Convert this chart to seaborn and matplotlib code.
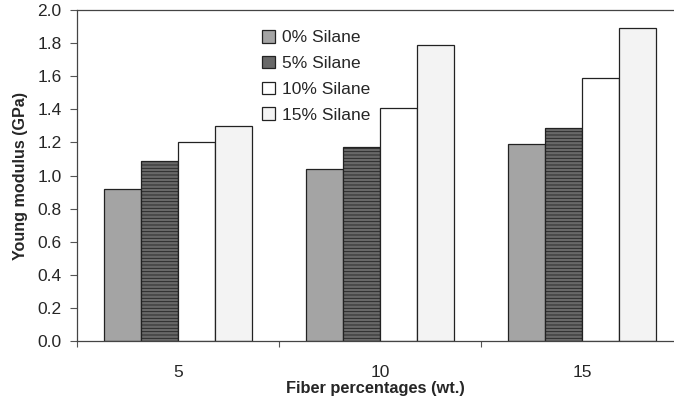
import matplotlib
matplotlib.use("Agg")
import matplotlib.pyplot as plt
import seaborn as sns
import pandas as pd
from matplotlib.ticker import FixedLocator

fibers = ["5", "10", "15"]
series = ["0% Silane", "5% Silane", "10% Silane", "15% Silane"]
v0 = [0.92, 1.04, 1.19]
v5 = [1.09, 1.17, 1.29]
v10 = [1.20, 1.41, 1.59]
v15 = [1.30, 1.79, 1.89]
yticks = [0.0, 0.2, 0.4, 0.6, 0.8, 1.0, 1.2, 1.4, 1.6, 1.8, 2.0]

rows = []
for s, vals in zip(series, [v0, v5, v10, v15]):
    for f, v in zip(fibers, vals):
        rows.append({"fiber": f, "silane": s, "modulus": v})
df = pd.DataFrame(rows)

sns.set_theme(style="white")
plt.rcParams["font.family"] = ["Liberation Sans", "DejaVu Sans"]
plt.rcParams["hatch.linewidth"] = 0.6

fig = plt.figure(figsize=(6.74, 4.04), dpi=100)
ax = fig.add_axes([77 / 674, 1 - 341 / 404, 597 / 674, 331 / 404])

palette = {"0% Silane": "#a4a4a4", "5% Silane": "#686868",
           "10% Silane": "#ffffff", "15% Silane": "#f3f3f3"}
sns.barplot(data=df, x="fiber", y="modulus", hue="silane", order=fibers,
            hue_order=series, palette=palette, edgecolor="#222222",
            linewidth=0.9, width=0.73, gap=0, errorbar=None, saturation=1,
            ax=ax)

# hatch for 5% series
for bar_container, s in zip(ax.containers, series):
    if s == "5% Silane":
        for p in bar_container:
            p.set_hatch("-----")

ax.set_xlim(-0.5, 2.455)
ax.set_ylim(0, 2.0)
ax.set_yticks(yticks)
ax.set_yticklabels([f"{t:.1f}" for t in yticks], fontsize=12.5)
ax.set_xticks(range(len(fibers)))
ax.set_xticklabels(fibers, fontsize=12.5)
ax.tick_params(axis="x", which="major", length=0, pad=17)
ax.xaxis.set_minor_locator(FixedLocator([-0.5, 0.5, 1.5]))
ax.tick_params(axis="x", which="minor", length=4, width=0.8, direction="out", color="#555555", bottom=True)
ax.tick_params(axis="y", length=5, width=0.8, direction="out", color="#555555", left=True, pad=6)

ax.set_xlabel("Fiber percentages (wt.)", fontsize=11.8, fontweight="bold", labelpad=1)
ax.set_ylabel("Young modulus (GPa)", fontsize=11.6, fontweight="bold", labelpad=7)

for side in ["left", "bottom", "top"]:
    ax.spines[side].set_visible(True)
    ax.spines[side].set_color("#444444")
    ax.spines[side].set_linewidth(0.9)
ax.spines["right"].set_visible(False)

leg = ax.legend(loc="upper left", bbox_to_anchor=(0.31, 0.94), frameon=False,
                fontsize=12.5, handlelength=0.75, handleheight=0.75,
                labelspacing=0.6, handletextpad=0.4, borderaxespad=0, borderpad=0)

fig.savefig("out.png", dpi=100)
